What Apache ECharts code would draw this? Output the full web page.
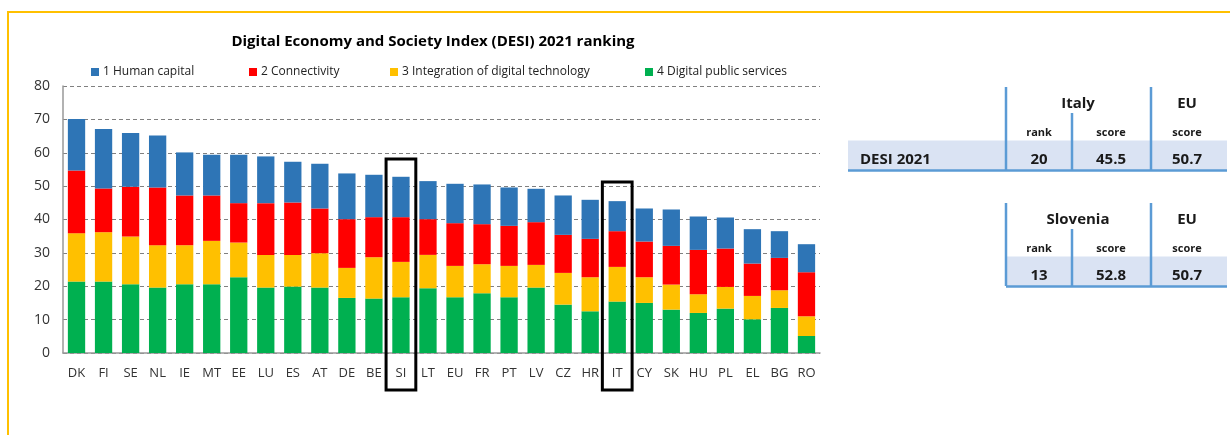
<!DOCTYPE html>
<html>
<head>
<meta charset="utf-8">
<script src="https://cdn.jsdelivr.net/npm/echarts@6/dist/echarts.min.js"></script>
<style>
  html, body { margin: 0; padding: 0; background: #fff; }
  #main { width: 1230px; height: 435px; }
</style>
</head>
<body>
<div id="main"></div>
<script>
// countries, in ranking order
const countries = ['DK','FI','SE','NL','IE','MT','EE','LU','ES','AT','DE','BE','SI','LT','EU','FR','PT','LV','CZ','HR','IT','CY','SK','HU','PL','EL','BG','RO'];

// stacked pieces
const digitalPublic = [21.4,21.4,20.6,19.6,20.6,20.6,22.7,19.6,19.9,19.6,16.5,16.3,16.7,19.4,16.7,17.9,16.7,19.6,14.5,12.5,15.4,15.0,13.0,12.0,13.3,10.1,13.5,5.1];
const integration   = [14.5,14.8,14.3,12.7,11.7,13.0,10.4,9.8,9.5,10.3,9.0,12.4,10.6,10.0,9.4,8.7,9.4,6.8,9.5,10.2,10.4,7.7,7.5,5.6,6.5,7.0,5.3,5.9];
const connectivity  = [18.8,13.1,14.9,17.3,14.9,13.6,11.8,15.5,15.7,13.4,14.6,12.0,13.4,10.7,12.8,12.0,12.0,12.8,11.4,11.5,10.7,10.7,11.6,13.3,11.5,9.7,9.7,13.2];
const humanCapital  = [15.4,17.8,16.1,15.6,12.9,12.2,14.5,14.0,12.2,13.4,13.7,12.7,12.1,11.4,11.8,11.9,11.5,10.0,11.8,11.7,9.0,9.9,10.9,10.0,9.3,10.3,8.0,8.4];

const seriesNames = ['1 Human capital','2 Connectivity','3 Integration of digital technology','4 Digital public services'];

// highlighted countries and top of their frames
const highlighted = [['SI', 58.1], ['IT', 51.2]];

// side tables
const italyTable = { head: 'Italy', rank: '20', score: '45.5', eu: '50.7' };
const sloveniaTable = { head: 'Slovenia', rank: '13', score: '52.8', eu: '50.7' };

const FONT = '"Open Sans", "Noto Sans", sans-serif';
const colors = { hc: '#2E75B6', conn: '#FF0000', integ: '#FFC000', dps: '#00B050' };

let chart = echarts.init(document.getElementById('main'));

function barSeries(name, data, color) {
  return {
    name: name,
    type: 'bar',
    stack: 'desi',
    barCategoryGap: '36%',
    itemStyle: { color: color },
    data: data
  };
}

const legendLefts = [86, 244, 385, 640];

let option = {
  animation: false,
  textStyle: { fontFamily: FONT },
  title: {
    text: 'Digital Economy and Society Index (DESI) 2021 ranking',
    left: 428,
    textAlign: 'center',
    top: 29,
    textStyle: { fontSize: 15, fontWeight: 'bold', color: '#000', fontFamily: FONT }
  },
  legend: seriesNames.map(function (n, i) {
    return {
      data: [n],
      left: legendLefts[i],
      top: 61,
      icon: 'rect',
      itemWidth: 8,
      itemHeight: 8,
      itemGap: 4,
      textStyle: { fontSize: 12, color: '#222', fontFamily: FONT, padding: [0, 0, 0, -1] }
    };
  }),
  grid: { left: 63, right: 410, top: 86, bottom: 82 },
  xAxis: {
    type: 'category',
    data: countries,
    axisTick: { show: false },
    axisLine: { lineStyle: { color: '#999', width: 1.5 } },
    axisLabel: { fontSize: 13, color: '#333', margin: 14, interval: 0 }
  },
  yAxis: {
    type: 'value',
    min: 0,
    max: 80,
    interval: 10,
    axisLine: { show: true, lineStyle: { color: '#999', width: 1.5 } },
    axisTick: { show: false },
    axisLabel: { fontSize: 14, color: '#333', margin: 13 },
    splitLine: { lineStyle: { type: [4, 3], color: '#808080', width: 1 } }
  },
  series: [
    barSeries(seriesNames[3], digitalPublic, colors.dps),
    barSeries(seriesNames[2], integration, colors.integ),
    barSeries(seriesNames[1], connectivity, colors.conn),
    barSeries(seriesNames[0], humanCapital, colors.hc)
  ]
};

chart.setOption(option);

// frames round SI and IT, plus the side tables and page border
function buildGraphics() {
  let g = [];
  let x0 = chart.convertToPixel({ xAxisIndex: 0 }, countries[0]);
  let x1 = chart.convertToPixel({ xAxisIndex: 0 }, countries[1]);
  let step = x1 - x0;
  let axisY = chart.convertToPixel({ yAxisIndex: 0 }, 0);
  highlighted.forEach(function (h) {
    let cx = chart.convertToPixel({ xAxisIndex: 0 }, h[0]);
    let top = chart.convertToPixel({ yAxisIndex: 0 }, h[1]);
    let w = step * 1.1;
    g.push({
      type: 'rect',
      shape: { x: cx - w / 2, y: top, width: w, height: axisY + 37 - top },
      style: { fill: 'none', stroke: '#000', lineWidth: 3 },
      z: 100
    });
  });

  // page border (yellow)
  g.push({ type: 'polyline', shape: { points: [[8, 435], [8, 12], [1230, 12]] },
    style: { stroke: '#FFC000', lineWidth: 2, fill: 'none' }, z: 50 });

  const lineC = '#5B9BD5';
  const band = '#DAE3F3';
  const colX = [1039, 1111, 1187];

  function table(t, y0, withLabel) {
    // y0 = top of vertical lines
    let bandTop = y0 + 53.5, bottom = y0 + 83;
    let bandLeft = withLabel ? 848 : 1006;
    g.push({ type: 'rect', shape: { x: bandLeft, y: bandTop, width: 1227 - bandLeft, height: bottom - bandTop },
      style: { fill: band }, z: 10 });
    g.push({ type: 'line', shape: { x1: bandLeft, y1: bottom + 0.5, x2: 1227, y2: bottom + 0.5 },
      style: { stroke: lineC, lineWidth: 2.5 }, z: 12 });
    [[1006, y0], [1072, y0 + 26], [1151, y0]].forEach(function (v) {
      g.push({ type: 'line', shape: { x1: v[0], y1: v[1], x2: v[0], y2: bottom }, style: { stroke: lineC, lineWidth: 2.5 }, z: 12 });
    });
    function txt(s, x, y, size, align) {
      g.push({ type: 'text', x: x, y: y, z: 20,
        style: { text: s, fontSize: size, fontWeight: 'bold', fill: '#1a1a1a', fontFamily: FONT,
          align: align || 'center', verticalAlign: 'middle' } });
    }
    txt(t.head, 1078, y0 + 17, 15);
    txt('EU', 1187, y0 + 17, 15);
    txt('rank', colX[0], y0 + 46, 11);
    txt('score', colX[1], y0 + 46, 11);
    txt('score', colX[2], y0 + 46, 11);
    txt(t.rank, colX[0], y0 + 73, 15);
    txt(t.score, colX[1], y0 + 73, 15);
    txt(t.eu, colX[2], y0 + 73, 15);
    if (withLabel) txt('DESI 2021', 860, y0 + 73, 15, 'left');
  }
  table(italyTable, 87, true);
  table(sloveniaTable, 203, false);
  return g;
}

chart.setOption({ graphic: buildGraphics() });
</script>
</body>
</html>
